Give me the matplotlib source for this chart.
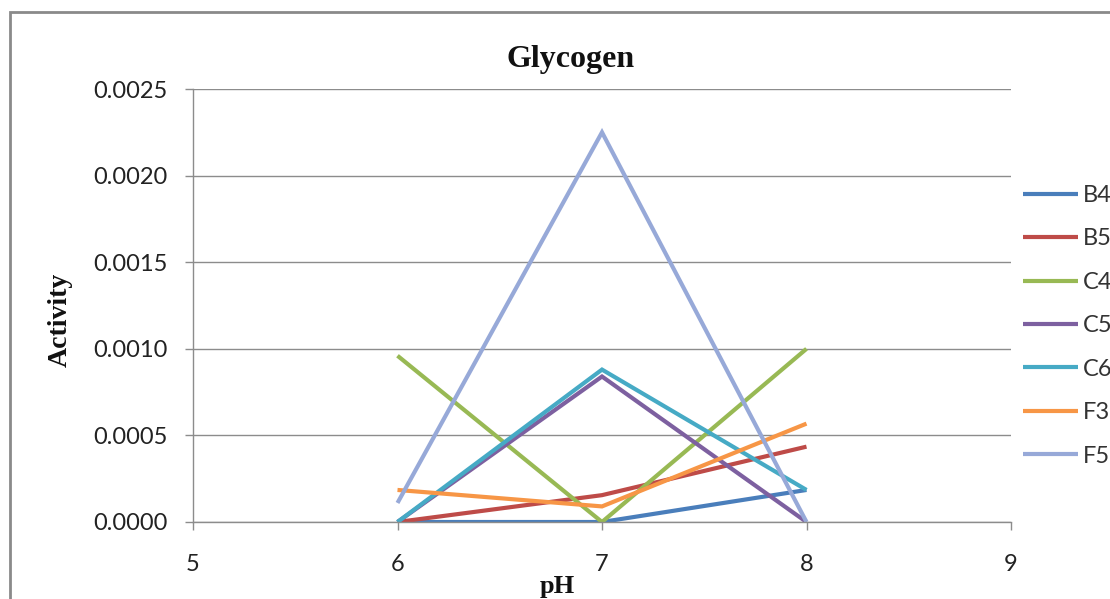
import matplotlib
matplotlib.use("Agg")
import matplotlib.pyplot as plt
from matplotlib.patches import Rectangle

ph = [6, 7, 8]
series_names = ["B4", "B5", "C4", "C5", "C6", "F3", "F5"]
B4 = [0.0, 0.0, 0.000185]
B5 = [0.0, 0.000155, 0.000435]
C4 = [0.00096, 0.0, 0.001]
C5 = [0.0, 0.00084, 0.0]
C6 = [0.0, 0.00088, 0.000185]
F3 = [0.000185, 0.00009, 0.000568]
F5 = [0.00011, 0.00225, 0.0]
colors = ["#4A7EBB", "#BE4B48", "#98B954", "#7D60A0", "#46AAC5", "#F79646", "#97A9D8"]

xticks = [5, 6, 7, 8, 9]
yticks = [0.0, 0.0005, 0.0010, 0.0015, 0.0020, 0.0025]

W, H = 1110, 599
fig = plt.figure(figsize=(W / 100, H / 100), dpi=100)
ax = fig.add_axes([193 / W, 1 - 522 / H, (1011 - 193) / W, (522 - 89) / H])

for name, vals, c in zip(series_names, [B4, B5, C4, C5, C6, F3, F5], colors):
    ax.plot(ph, vals, color=c, lw=3.0, label=name, solid_capstyle="butt", solid_joinstyle="miter")

ax.set_xlim(5, 9)
ax.set_ylim(0, 0.0025)
ax.set_xticks(xticks)
ax.set_yticks(yticks)
ax.set_yticklabels([f"{v:.4f}" for v in yticks])
ax.set_xticklabels([str(v) for v in xticks])

grid_c = "#8C8C8C"
ax.grid(axis="y", color=grid_c, lw=1.0)
ax.set_axisbelow(True)
for s in ["top", "right"]:
    ax.spines[s].set_visible(False)
for s in ["left", "bottom"]:
    ax.spines[s].set_color(grid_c)
    ax.spines[s].set_linewidth(1.0)

tick_font = "Lato"
ax.tick_params(axis="y", length=6, width=1, color=grid_c, pad=12, labelsize=17, labelcolor="#222222")
ax.tick_params(axis="x", length=6, width=1, color=grid_c, pad=17, labelsize=17, labelcolor="#222222")
for lab in ax.get_xticklabels() + ax.get_yticklabels():
    lab.set_fontfamily(tick_font)

fig.text(571 / W, 1 - 67 / H, "Glycogen", ha="center", va="baseline",
         fontsize=23, fontweight="bold", family="Liberation Serif", color="#111111")
fig.text(60 / W, 1 - 320 / H, "Activity", ha="center", va="center", rotation=90,
         fontsize=20, fontweight="bold", family="Liberation Serif", color="#111111")
fig.text(557 / W, 1 - 593 / H, "pH", ha="center", va="baseline",
         fontsize=19, fontweight="bold", family="Liberation Serif", color="#111111")

leg = fig.legend(loc="upper left", bbox_to_anchor=(1023 / W, 1 - 185 / H),
                 frameon=False, handlelength=2.35, handletextpad=0.17,
                 labelspacing=0.95, borderpad=0, borderaxespad=0,
                 prop={"family": tick_font, "size": 17})
for t in leg.get_texts():
    t.set_color("#333333")

fig.patches.append(Rectangle((10 / W, -0.1), 1.2, 1.1 - 12 / H, transform=fig.transFigure,
                             fill=False, edgecolor="#8A8A8A", lw=2, clip_on=False))

fig.savefig("out.png", dpi=100)
